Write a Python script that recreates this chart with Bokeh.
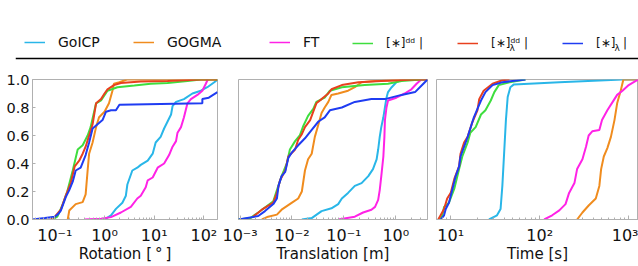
import numpy as np
from bokeh.plotting import figure
from bokeh.models import Range1d, FixedTicker, PrintfTickFormatter, Legend, LegendItem, Span
from bokeh.layouts import column, row
from bokeh.embed import file_html
from bokeh.resources import INLINE
from bokeh.core.properties import value

# ---------------- data (x values given as log10 exponents) -------------
methods = ["GoICP", "GOGMA", "FT", "[∗]ᵈᵈ |", "[∗]ᵈᵈ |", "[∗]  |"]
colors = ["#29b6e8", "#f08c1e", "#ff22e6", "#3ede3e", "#e8401e", "#1f3cf2"]

# Rotation [deg]
rot_goicp_x = [0.0, 0.13, 0.23, 0.36, 0.43, 0.46, 0.56, 0.66, 0.73, 0.87, 0.97, 1.03, 1.13, 1.20, 1.27, 1.34, 1.37, 1.44, 1.60, 1.77, 1.94, 2.07, 2.21, 2.275]
rot_goicp_y = [0.0, 0.03, 0.076, 0.12, 0.17, 0.25, 0.35, 0.37, 0.39, 0.42, 0.47, 0.55, 0.59, 0.65, 0.70, 0.75, 0.81, 0.84, 0.86, 0.90, 0.92, 0.945, 0.98, 1.0]
rot_gogma_x = [-0.74, -0.71, -0.58, -0.44, -0.38, -0.34, -0.31, -0.24, -0.17, -0.11, 0.0, 0.09, 0.16, 0.19, 0.30, 0.45, 2.275]
rot_gogma_y = [0.0, 0.064, 0.11, 0.124, 0.18, 0.35, 0.47, 0.55, 0.66, 0.73, 0.77, 0.83, 0.92, 0.97, 0.98, 1.0, 1.0]
rot_ft_x = [-0.41, -0.07, 0.13, 0.33, 0.53, 0.66, 0.73, 0.83, 0.87, 0.97, 1.07, 1.20, 1.30, 1.37, 1.44, 1.47, 1.54, 1.60, 1.67, 1.74, 1.87, 1.97, 2.04, 2.08]
rot_ft_y = [0.0, 0.005, 0.017, 0.05, 0.09, 0.15, 0.17, 0.23, 0.28, 0.30, 0.37, 0.40, 0.46, 0.52, 0.56, 0.62, 0.66, 0.73, 0.83, 0.86, 0.89, 0.92, 0.97, 1.0]
rot_dd_x = [-1.05, -0.95, -0.85, -0.75, -0.64, -0.54, -0.44, -0.34, -0.28, -0.17, -0.07, 0.06, 0.26, 0.6, 0.93, 1.27, 1.67, 1.94, 2.275]
rot_dd_y = [0.0, 0.02, 0.10, 0.20, 0.35, 0.50, 0.53, 0.60, 0.66, 0.83, 0.85, 0.92, 0.945, 0.957, 0.97, 0.975, 0.99, 1.0, 1.0]
rot_ddl_x = [-1.1, -1.0, -0.88, -0.78, -0.68, -0.60, -0.51, -0.44, -0.38, -0.31, -0.24, -0.17, -0.07, 0.0, 0.06, 0.19, 0.33, 0.73, 1.27, 1.94, 2.275]
rot_ddl_y = [0.0, 0.02, 0.07, 0.17, 0.26, 0.38, 0.42, 0.47, 0.52, 0.60, 0.68, 0.83, 0.86, 0.90, 0.93, 0.96, 0.975, 0.985, 0.99, 1.0, 1.0]
rot_l_x = [-1.45, -1.2, -1.0, -0.93, -0.88, -0.78, -0.71, -0.64, -0.58, -0.48, -0.38, -0.31, -0.24, -0.14, -0.04, 0.03, 0.13, 0.23, 0.30, 1.97, 1.97, 2.1, 2.275]
rot_l_y = [0.0, 0.01, 0.02, 0.04, 0.064, 0.16, 0.21, 0.27, 0.35, 0.37, 0.46, 0.55, 0.65, 0.68, 0.71, 0.77, 0.78, 0.78, 0.82, 0.83, 0.86, 0.87, 0.91]

# Translation [m]
tra_goicp_x = [-1.81, -1.62, -1.43, -1.24, -1.11, -1.04, -0.92, -0.79, -0.66, -0.53, -0.44, -0.37, -0.34, -0.31, -0.28, -0.24, -0.21, -0.18, -0.15, -0.08, 0.01, 0.11, 0.61]
tra_goicp_y = [0.0, 0.01, 0.06, 0.08, 0.11, 0.15, 0.19, 0.24, 0.26, 0.31, 0.36, 0.43, 0.50, 0.59, 0.66, 0.73, 0.80, 0.87, 0.91, 0.945, 0.98, 1.0, 1.0]
tra_gogma_x = [-2.58, -2.46, -2.29, -2.2, -2.0, -1.88, -1.81, -1.75, -1.69, -1.62, -1.56, -1.49, -1.43, -1.37, -1.30, -1.24, -1.11, -0.92, -0.79, -0.66, -0.40, 0.37, 0.61]
tra_gogma_y = [0.0, 0.02, 0.035, 0.07, 0.12, 0.15, 0.20, 0.35, 0.43, 0.47, 0.59, 0.68, 0.76, 0.80, 0.84, 0.89, 0.90, 0.92, 0.945, 0.98, 0.99, 1.0, 1.0]
tra_ft_x = [-1.11, -0.79, -0.63, -0.47, -0.40, -0.34, -0.31, -0.28, -0.24, -0.22, -0.21, -0.18, -0.15, 0.01, 0.17, 0.30, 0.40, 0.49, 0.61]
tra_ft_y = [0.0, 0.02, 0.05, 0.07, 0.09, 0.14, 0.21, 0.31, 0.45, 0.59, 0.71, 0.80, 0.85, 0.87, 0.90, 0.93, 0.97, 1.0, 1.0]
tra_dd_x = [-3.03, -2.8, -2.65, -2.36, -2.29, -2.2, -2.10, -2.04, -1.94, -1.85, -1.78, -1.69, -1.59, -1.53, -1.37, -1.27, -1.04, -0.60, -0.15, 0.11, 0.49, 0.61]
tra_dd_y = [0.0, 0.01, 0.05, 0.13, 0.21, 0.31, 0.40, 0.50, 0.56, 0.60, 0.67, 0.74, 0.79, 0.84, 0.87, 0.92, 0.945, 0.96, 0.97, 0.99, 1.0, 1.0]
tra_ddl_x = [-2.75, -2.58, -2.36, -2.29, -2.23, -2.13, -2.07, -1.94, -1.88, -1.81, -1.75, -1.65, -1.59, -1.53, -1.43, -1.30, -1.24, -1.04, -0.72, -0.28, 0.37, 0.61]
tra_ddl_y = [0.02, 0.07, 0.12, 0.19, 0.28, 0.35, 0.45, 0.50, 0.57, 0.61, 0.66, 0.71, 0.77, 0.83, 0.86, 0.90, 0.93, 0.96, 0.98, 0.99, 1.0, 1.0]
tra_l_x = [-3.03, -2.65, -2.52, -2.36, -2.29, -2.26, -2.2, -2.13, -2.07, -2.0, -1.88, -1.75, -1.62, -1.49, -1.37, -1.27, -1.04, -0.79, -0.47, -0.21, 0.11, 0.37, 0.53, 0.61]
tra_l_y = [0.0, 0.025, 0.06, 0.11, 0.15, 0.24, 0.31, 0.34, 0.44, 0.48, 0.53, 0.58, 0.64, 0.70, 0.73, 0.78, 0.80, 0.84, 0.86, 0.86, 0.89, 0.91, 0.97, 1.0]

# Time [s]
tim_goicp_x = [1.43, 1.52, 1.56, 1.58, 1.60, 1.62, 1.64, 1.67, 1.71, 2.22, 2.93, 3.11]
tim_goicp_y = [0.0, 0.03, 0.075, 0.24, 0.475, 0.71, 0.875, 0.945, 0.965, 0.98, 1.0, 1.0]
tim_gogma_x = [2.42, 2.48, 2.55, 2.63, 2.67, 2.69, 2.72, 2.76, 2.80, 2.84, 2.87, 2.91, 2.94, 3.11]
tim_gogma_y = [0.0, 0.05, 0.10, 0.15, 0.24, 0.36, 0.45, 0.51, 0.59, 0.71, 0.83, 0.92, 1.0, 1.0]
tim_ft_x = [2.05, 2.14, 2.22, 2.29, 2.33, 2.39, 2.42, 2.48, 2.52, 2.55, 2.59, 2.67, 2.70, 2.76, 2.82, 2.87, 2.93, 3.0, 3.08, 3.11]
tim_ft_y = [0.0, 0.03, 0.065, 0.11, 0.19, 0.26, 0.36, 0.43, 0.52, 0.60, 0.63, 0.64, 0.71, 0.78, 0.84, 0.89, 0.92, 0.96, 0.99, 1.0]
tim_dd_x = [0.88, 0.906, 0.925, 0.98, 1.04, 1.094, 1.13, 1.19, 1.22, 1.28, 1.34, 1.39, 1.45, 1.49, 1.54, 1.66, 1.84]
tim_dd_y = [0.0, 0.03, 0.09, 0.12, 0.22, 0.36, 0.45, 0.55, 0.62, 0.66, 0.75, 0.78, 0.85, 0.91, 0.96, 0.98, 1.0]
tim_ddl_x = [0.86, 0.925, 0.96, 1.0, 1.04, 1.094, 1.11, 1.15, 1.19, 1.24, 1.30, 1.32, 1.37, 1.47, 1.58, 1.66]
tim_ddl_y = [0.0, 0.075, 0.15, 0.19, 0.29, 0.38, 0.47, 0.55, 0.59, 0.69, 0.78, 0.86, 0.92, 0.97, 0.995, 1.0]
tim_l_x = [0.888, 0.925, 0.944, 0.98, 1.02, 1.056, 1.094, 1.11, 1.15, 1.19, 1.22, 1.26, 1.30, 1.34, 1.39, 1.47, 1.58, 1.84]
tim_l_y = [0.0, 0.03, 0.075, 0.12, 0.22, 0.31, 0.38, 0.45, 0.52, 0.59, 0.65, 0.73, 0.79, 0.85, 0.91, 0.96, 0.98, 1.0]

rot_ticks = [0.1, 1, 10, 100]
rot_tick_labels = ["10⁻¹", "10⁰", "10¹", "10²"]
tra_ticks = [0.001, 0.01, 0.1, 1]
tra_tick_labels = ["10⁻³", "10⁻²", "10⁻¹", "10⁰"]
tim_ticks = [10, 100, 1000]
tim_tick_labels = ["10¹", "10²", "10³"]
y_ticks = [0.0, 0.2, 0.4, 0.6, 0.8, 1.0]

FONT = "DejaVu Sans"
GRAY = "#b0b0b0"


def panel(width, bl, br, xr, xlabel, ticks, labels, series, show_y):
    p = figure(width=width, height=206, x_axis_type="log",
               x_range=Range1d(10 ** xr[0], 10 ** xr[1]), y_range=Range1d(0, 1),
               output_backend="svg", toolbar_location=None,
               min_border_left=bl, min_border_right=br, min_border_top=19, min_border_bottom=47)
    p.xgrid.visible = False
    p.ygrid.visible = False
    p.outline_line_color = GRAY
    p.outline_line_width = 1
    for (xs, ys), c in zip(series, colors):
        p.line(np.power(10.0, xs), ys, line_color=c, line_width=2)
    lo, hi = int(np.floor(xr[0])), int(np.ceil(xr[1]))
    minor = [k * 10.0 ** e for e in range(lo, hi + 1) for k in range(2, 10)]
    ax = p.xaxis[0]
    ax.ticker = FixedTicker(ticks=ticks, minor_ticks=minor)
    ax.major_label_overrides = {t: l for t, l in zip(ticks, labels)}
    ax.axis_label = xlabel
    ax.axis_label_text_font = FONT
    ax.axis_label_text_font_size = "15px"
    ax.axis_label_text_font_style = "normal"
    ax.axis_label_text_color = "#111111"
    ax.axis_label_standoff = -3
    ax.major_label_text_font = FONT
    ax.major_label_text_font_size = "16px"
    ax.major_label_text_color = "#111111"
    ax.major_label_standoff = 6
    ax.axis_line_color = GRAY
    ax.major_tick_line_color = GRAY
    ax.minor_tick_line_color = GRAY
    ax.major_tick_in = 4
    ax.major_tick_out = 0
    ax.minor_tick_in = 2
    ax.minor_tick_out = 0
    ya = p.yaxis[0]
    if show_y:
        ya.ticker = FixedTicker(ticks=y_ticks)
        ya.formatter = PrintfTickFormatter(format="%.1f")
        ya.major_label_text_font = FONT
        ya.major_label_text_font_size = "14.5px"
        ya.major_label_text_color = "#111111"
        ya.major_label_standoff = 3
        ya.axis_line_color = GRAY
        ya.major_tick_line_color = GRAY
        ya.major_tick_in = 3
        ya.major_tick_out = 0
        ya.minor_tick_line_color = None
    else:
        ya.visible = False
    return p


p1 = panel(222, 32, 5, (-1.45, 2.275), "Rotation [\u2009°\u2009]", rot_ticks, rot_tick_labels,
           [(rot_goicp_x, rot_goicp_y), (rot_gogma_x, rot_gogma_y), (rot_ft_x, rot_ft_y),
            (rot_dd_x, rot_dd_y), (rot_ddl_x, rot_ddl_y), (rot_l_x, rot_l_y)], True)
p2 = panel(209, 16, 4, (-3.03, 0.61), "Translation [m]", tra_ticks, tra_tick_labels,
           [(tra_goicp_x, tra_goicp_y), (tra_gogma_x, tra_gogma_y), (tra_ft_x, tra_ft_y),
            (tra_dd_x, tra_dd_y), (tra_ddl_x, tra_ddl_y), (tra_l_x, tra_l_y)], False)
p3 = panel(207, 5, 0, (0.84, 3.11), "Time [s]", tim_ticks, tim_tick_labels,
           [(tim_goicp_x, tim_goicp_y), (tim_gogma_x, tim_gogma_y), (tim_ft_x, tim_ft_y),
            (tim_dd_x, tim_dd_y), (tim_ddl_x, tim_ddl_y), (tim_l_x, tim_l_y)], False)

# ---------------- legend strip ----------------
lg = figure(width=638, height=60, x_range=Range1d(0, 623), y_range=Range1d(0, 60),
            output_backend="svg", toolbar_location=None,
            x_axis_location=None, y_axis_location=None,
            min_border_left=15, min_border_right=0, min_border_top=0, min_border_bottom=0)
lg.xgrid.visible = False
lg.ygrid.visible = False
lg.outline_line_color = None
lg.add_layout(Span(location=2, dimension="width", line_color="black", line_width=1.3))

legend_x = [9, 118, 254, 337, 442, 547]
legend_sizes = ["14px", "14px", "14px", "12px", "12px", "12px"]
for name, c, lx, fs in zip(methods, colors, legend_x, legend_sizes):
    # proxy renderer placed outside the visible range; only its legend swatch shows
    r = lg.line(x=[-20, -10], y=[-20, -20], line_color=c, line_width=1.5)
    leg = Legend(items=[LegendItem(label=name, renderers=[r])], location=(lx, 10),
                 orientation="horizontal", glyph_width=21, glyph_height=14, label_height=14,
                 label_standoff=13, padding=0, margin=0, border_line_color=None,
                 background_fill_alpha=0, label_text_font=FONT, label_text_font_size=fs,
                 label_text_color="#111111")
    lg.add_layout(leg)

# subscript lambdas of the last two labels
lg.text(x=[494, 599], y=[13, 13], text=["λ", "λ"], text_font=value(FONT), text_font_size="9px",
        text_color="#111111", text_baseline="middle")

layout = column(lg, row(p1, p2, p3, spacing=0), spacing=0)
open("out.html", "w").write(file_html(layout, INLINE))
